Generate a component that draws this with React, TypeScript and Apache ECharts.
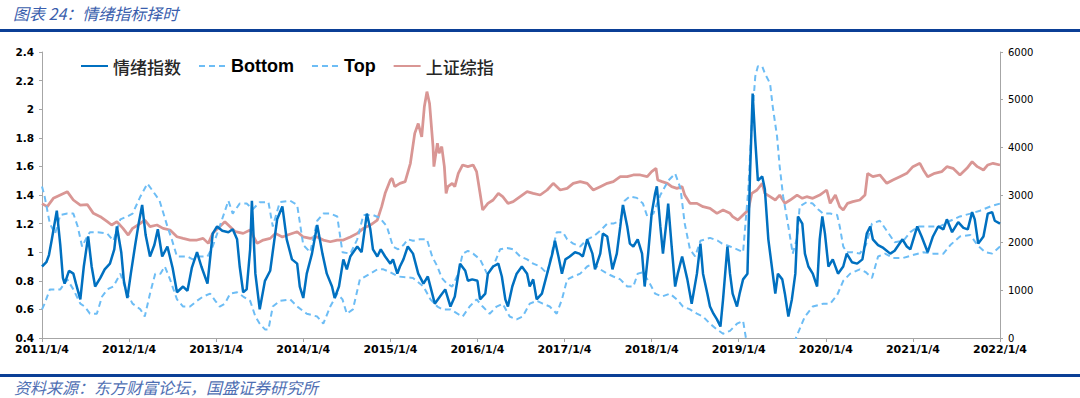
import React, { useEffect, useRef } from "react";
import * as echarts from "echarts";

// [decimal year, value]
const sentiment: [number, number][] = [
  [2011.00,0.90],[2011.05,0.93],[2011.08,0.98],[2011.11,1.08],[2011.15,1.22],[2011.17,1.29],[2011.21,1.05],[2011.24,0.82],[2011.26,0.78],[2011.31,0.87],[2011.36,0.85],[2011.39,0.78],[2011.44,0.67],[2011.48,0.90],[2011.53,1.11],[2011.57,0.90],[2011.61,0.76],[2011.67,0.82],[2011.72,0.88],[2011.78,0.92],[2011.83,1.02],[2011.86,1.18],[2011.91,1.00],[2011.94,0.80],[2011.98,0.68],
  [2012.02,0.85],[2012.07,1.05],[2012.11,1.20],[2012.15,1.33],[2012.19,1.12],[2012.24,0.97],[2012.29,1.05],[2012.33,1.16],[2012.38,0.97],[2012.44,1.04],[2012.50,0.89],[2012.55,0.72],[2012.62,0.76],[2012.67,0.73],[2012.72,0.89],[2012.78,1.00],[2012.83,0.90],[2012.90,0.78],[2012.96,1.13],
  [2013.01,1.18],[2013.07,1.15],[2013.14,1.14],[2013.19,1.16],[2013.24,1.09],[2013.27,0.90],[2013.31,0.72],[2013.35,0.74],[2013.39,1.02],[2013.41,1.36],[2013.45,0.85],[2013.50,0.60],[2013.56,0.80],[2013.62,0.87],[2013.70,1.23],[2013.76,1.32],[2013.81,1.09],[2013.87,0.95],[2013.93,0.92],[2013.96,0.76],
  [2014.00,0.68],[2014.04,0.85],[2014.10,0.99],[2014.16,1.19],[2014.22,0.99],[2014.27,0.85],[2014.33,0.76],[2014.36,0.68],[2014.41,0.76],[2014.46,0.95],[2014.50,0.88],[2014.54,0.97],[2014.62,1.04],[2014.67,1.00],[2014.73,1.27],[2014.77,1.16],[2014.80,1.02],[2014.85,0.97],[2014.89,1.02],[2014.94,0.97],
  [2015.00,0.92],[2015.03,0.95],[2015.08,0.85],[2015.11,0.90],[2015.15,0.95],[2015.20,1.04],[2015.26,0.99],[2015.32,0.85],[2015.38,0.78],[2015.43,0.83],[2015.51,0.64],[2015.57,0.69],[2015.63,0.74],[2015.69,0.62],[2015.74,0.69],[2015.80,0.92],[2015.86,0.87],[2015.89,0.80],[2015.94,0.81],
  [2016.00,0.80],[2016.03,0.67],[2016.09,0.71],[2016.12,0.85],[2016.18,0.90],[2016.24,0.92],[2016.28,0.83],[2016.32,0.67],[2016.35,0.62],[2016.40,0.76],[2016.45,0.85],[2016.51,0.90],[2016.57,0.85],[2016.60,0.76],[2016.64,0.81],[2016.68,0.67],[2016.74,0.71],[2016.80,0.85],[2016.86,0.99],[2016.89,1.08],[2016.93,0.97],[2016.97,0.85],
  [2017.01,0.95],[2017.06,0.97],[2017.12,1.00],[2017.17,0.99],[2017.21,0.97],[2017.26,1.09],[2017.32,0.99],[2017.35,0.88],[2017.41,0.99],[2017.44,1.13],[2017.49,1.11],[2017.55,0.88],[2017.60,0.99],[2017.64,1.18],[2017.67,1.33],[2017.72,1.18],[2017.75,1.06],[2017.79,1.04],[2017.84,1.09],[2017.89,0.99],[2017.92,0.76],[2017.96,0.99],
  [2018.00,1.27],[2018.04,1.41],[2018.06,1.46],[2018.10,1.18],[2018.13,0.99],[2018.18,1.27],[2018.19,1.34],[2018.23,1.04],[2018.27,0.76],[2018.30,0.85],[2018.35,0.97],[2018.41,0.81],[2018.46,0.64],[2018.52,0.85],[2018.56,1.06],[2018.59,0.85],[2018.64,0.71],[2018.67,0.62],[2018.71,0.57],[2018.75,0.53],[2018.79,0.48],[2018.82,0.67],[2018.87,1.04],[2018.90,0.85],[2018.93,0.71],[2018.98,0.62],
  [2019.01,0.71],[2019.05,0.81],[2019.10,0.85],[2019.13,1.55],[2019.16,2.11],[2019.19,1.78],[2019.22,1.50],[2019.27,1.53],[2019.30,1.44],[2019.34,1.09],[2019.38,0.90],[2019.42,0.71],[2019.45,0.85],[2019.50,0.81],[2019.53,0.71],[2019.57,0.55],[2019.61,0.67],[2019.65,0.85],[2019.68,1.25],[2019.73,1.20],[2019.76,0.99],[2019.80,0.90],[2019.85,0.85],[2019.90,0.76],[2019.93,1.09],[2019.96,1.25],[2019.99,1.13],
  [2020.03,0.90],[2020.08,0.95],[2020.14,0.85],[2020.20,0.90],[2020.24,0.99],[2020.30,0.93],[2020.36,0.92],[2020.42,0.95],[2020.47,1.13],[2020.51,1.18],[2020.54,1.09],[2020.60,1.05],[2020.66,1.03],[2020.74,0.99],[2020.79,1.01],[2020.88,1.09],[2020.93,1.04],[2020.97,1.02],
  [2021.05,1.18],[2021.10,1.11],[2021.17,1.00],[2021.23,1.11],[2021.29,1.18],[2021.35,1.16],[2021.39,1.23],[2021.45,1.14],[2021.52,1.21],[2021.58,1.17],[2021.63,1.16],[2021.68,1.28],[2021.71,1.23],[2021.75,1.06],[2021.81,1.11],[2021.86,1.27],[2021.91,1.28],[2021.94,1.22],[2022.00,1.20],
];

const topBand: [number, number][] = [
  [2011.00,1.46],[2011.03,1.39],[2011.09,1.20],[2011.15,1.13],[2011.21,1.26],[2011.29,1.27],[2011.36,1.27],[2011.41,1.18],[2011.46,1.04],[2011.52,1.11],[2011.55,1.14],[2011.64,1.14],[2011.75,1.13],[2011.82,1.08],[2011.90,1.23],[2011.98,1.25],
  [2012.04,1.27],[2012.13,1.39],[2012.21,1.48],[2012.27,1.43],[2012.35,1.36],[2012.44,1.18],[2012.49,1.09],[2012.55,0.97],[2012.61,0.97],[2012.67,0.97],[2012.73,0.95],[2012.81,0.97],[2012.90,0.97],[2012.96,1.04],
  [2013.04,1.18],[2013.14,1.36],[2013.19,1.27],[2013.27,1.34],[2013.35,1.34],[2013.42,1.30],[2013.50,1.35],[2013.60,1.35],[2013.65,1.18],[2013.73,1.35],[2013.85,1.36],[2013.93,1.33],
  [2014.00,1.05],[2014.08,1.00],[2014.16,1.22],[2014.23,1.27],[2014.31,1.27],[2014.39,1.25],[2014.45,1.00],[2014.54,0.99],[2014.62,1.09],[2014.69,1.26],[2014.80,1.26],[2014.88,1.24],[2014.96,1.18],
  [2015.03,1.04],[2015.09,1.02],[2015.15,1.05],[2015.20,1.09],[2015.26,1.08],[2015.34,1.09],[2015.42,1.09],[2015.48,0.97],[2015.54,0.90],[2015.59,0.82],[2015.65,0.78],[2015.71,0.76],[2015.78,0.85],[2015.83,0.99],[2015.89,1.01],[2015.95,0.99],
  [2016.03,0.95],[2016.11,0.85],[2016.18,0.90],[2016.26,1.02],[2016.34,1.03],[2016.41,1.02],[2016.49,0.97],[2016.57,0.95],[2016.64,0.92],[2016.72,0.90],[2016.80,0.85],[2016.87,1.04],[2016.91,1.14],[2016.98,1.14],
  [2017.03,1.09],[2017.10,1.06],[2017.18,1.04],[2017.26,1.09],[2017.33,1.11],[2017.41,1.15],[2017.49,1.20],[2017.56,1.20],[2017.64,1.22],[2017.69,1.36],[2017.75,1.39],[2017.83,1.38],[2017.90,1.34],[2017.95,1.25],
  [2018.02,1.27],[2018.10,1.40],[2018.19,1.50],[2018.27,1.55],[2018.33,1.45],[2018.38,1.20],[2018.44,1.02],[2018.50,0.97],[2018.56,1.08],[2018.67,1.10],[2018.76,1.08],[2018.81,1.06],[2018.90,1.04],[2018.98,1.02],
  [2019.05,1.00],[2019.11,1.44],[2019.15,1.90],[2019.19,2.23],[2019.22,2.30],[2019.27,2.30],[2019.30,2.25],[2019.36,2.18],[2019.39,2.02],[2019.44,1.81],[2019.47,1.60],[2019.51,1.39],[2019.57,1.18],[2019.62,0.99],[2019.67,1.10],[2019.70,1.32],[2019.78,1.35],[2019.85,1.34],[2019.91,1.30],[2019.97,1.27],
  [2020.05,1.27],[2020.13,1.26],[2020.16,1.18],[2020.20,1.04],[2020.24,1.00],[2020.31,1.00],[2020.39,0.99],[2020.46,1.05],[2020.53,1.20],[2020.62,1.22],[2020.70,1.15],[2020.79,1.07],[2020.89,1.08],[2020.97,1.14],
  [2021.06,1.18],[2021.20,1.18],[2021.31,1.18],[2021.43,1.22],[2021.54,1.25],[2021.66,1.27],[2021.77,1.29],[2021.89,1.32],[2022.00,1.34],
];

const bottomBand: [number, number][] = [
  [2011.00,0.60],[2011.03,0.64],[2011.09,0.74],[2011.15,0.74],[2011.21,0.74],[2011.29,0.81],[2011.36,0.74],[2011.44,0.64],[2011.49,0.62],[2011.55,0.57],[2011.63,0.57],[2011.69,0.69],[2011.75,0.74],[2011.82,0.76],[2011.90,0.85],[2011.98,0.71],
  [2012.04,0.64],[2012.13,0.60],[2012.18,0.55],[2012.24,0.71],[2012.30,0.85],[2012.36,0.85],[2012.41,0.90],[2012.47,0.81],[2012.55,0.67],[2012.62,0.62],[2012.70,0.62],[2012.78,0.66],[2012.85,0.69],[2012.93,0.71],[2012.99,0.66],
  [2013.04,0.62],[2013.10,0.64],[2013.16,0.71],[2013.24,0.72],[2013.31,0.69],[2013.39,0.66],[2013.45,0.55],[2013.50,0.50],[2013.56,0.46],[2013.60,0.46],[2013.65,0.62],[2013.73,0.66],[2013.85,0.67],[2013.93,0.62],
  [2014.04,0.57],[2014.16,0.55],[2014.23,0.50],[2014.31,0.62],[2014.39,0.71],[2014.45,0.67],[2014.50,0.57],[2014.57,0.60],[2014.65,0.81],[2014.77,0.85],[2014.85,0.88],[2014.92,0.88],
  [2015.00,0.86],[2015.09,0.83],[2015.26,0.82],[2015.38,0.76],[2015.46,0.67],[2015.54,0.62],[2015.60,0.60],[2015.69,0.60],[2015.77,0.57],[2015.83,0.55],[2015.91,0.62],[2015.99,0.67],
  [2016.06,0.62],[2016.14,0.57],[2016.22,0.62],[2016.29,0.64],[2016.37,0.55],[2016.45,0.53],[2016.52,0.55],[2016.60,0.64],[2016.68,0.66],[2016.75,0.64],[2016.83,0.62],[2016.91,0.57],[2016.97,0.67],
  [2017.03,0.81],[2017.10,0.83],[2017.18,0.85],[2017.26,0.90],[2017.33,0.92],[2017.41,0.88],[2017.49,0.85],[2017.56,0.83],[2017.64,0.81],[2017.72,0.76],[2017.79,0.76],[2017.84,0.85],[2017.90,0.86],[2017.98,0.78],
  [2018.04,0.71],[2018.12,0.69],[2018.21,0.71],[2018.29,0.67],[2018.36,0.62],[2018.44,0.60],[2018.52,0.57],[2018.59,0.55],[2018.67,0.50],[2018.75,0.46],[2018.82,0.43],[2018.90,0.45],[2018.98,0.50],
  [2019.05,0.52],[2019.11,0.30],[2019.15,0.10],[2019.25,0.00],[2019.36,0.05],[2019.47,0.15],[2019.59,0.30],[2019.67,0.42],[2019.76,0.55],[2019.85,0.62],[2019.97,0.64],
  [2020.05,0.64],[2020.13,0.70],[2020.20,0.80],[2020.28,0.85],[2020.39,0.88],[2020.46,0.86],[2020.53,0.82],[2020.60,0.97],[2020.68,0.99],[2020.77,0.96],[2020.89,0.96],
  [2021.00,0.98],[2021.12,1.00],[2021.23,0.99],[2021.35,0.99],[2021.43,1.05],[2021.54,1.11],[2021.66,1.12],[2021.74,1.05],[2021.83,1.00],[2021.91,0.99],[2022.00,1.04],
];

const sse: [number, number][] = [
  [2011.00,2820],[2011.06,2755],[2011.13,2930],[2011.21,3000],[2011.29,3070],[2011.36,2895],[2011.44,2790],[2011.52,2800],[2011.59,2615],[2011.67,2545],[2011.75,2440],[2011.80,2370],[2011.86,2440],[2011.93,2300],[2011.99,2160],
  [2012.04,2300],[2012.13,2405],[2012.18,2475],[2012.24,2335],[2012.32,2370],[2012.39,2300],[2012.47,2265],[2012.55,2125],[2012.62,2090],[2012.70,2055],[2012.78,2055],[2012.85,2090],[2012.91,1985],[2012.96,2195],
  [2013.02,2300],[2013.10,2440],[2013.16,2335],[2013.22,2230],[2013.31,2195],[2013.39,2265],[2013.47,1985],[2013.54,2055],[2013.62,2090],[2013.68,2195],[2013.76,2120],[2013.82,2160],[2013.93,2230],
  [2014.00,2120],[2014.08,2090],[2014.16,2120],[2014.23,2055],[2014.31,2020],[2014.39,2055],[2014.46,2055],[2014.54,2120],[2014.62,2195],[2014.69,2300],[2014.77,2370],[2014.85,2475],[2014.90,2755],[2014.94,3035],
  [2015.00,3315],[2015.02,3350],[2015.05,3175],[2015.11,3245],[2015.17,3280],[2015.23,3665],[2015.28,4293],[2015.32,4500],[2015.36,4220],[2015.39,4850],[2015.42,5168],[2015.45,4920],[2015.49,4015],[2015.50,3595],[2015.54,4085],[2015.56,3875],[2015.59,4015],[2015.62,3595],[2015.64,3035],[2015.66,3175],[2015.71,3245],[2015.74,3175],[2015.78,3455],[2015.83,3630],[2015.89,3595],[2015.95,3630],[2015.99,3490],
  [2016.03,3035],[2016.06,2685],[2016.12,2825],[2016.18,2895],[2016.24,3035],[2016.29,2965],[2016.35,2825],[2016.41,2860],[2016.49,2965],[2016.57,3070],[2016.64,3035],[2016.72,3000],[2016.80,3105],[2016.87,3245],[2016.95,3105],
  [2017.03,3140],[2017.10,3245],[2017.18,3280],[2017.26,3245],[2017.33,3105],[2017.41,3175],[2017.49,3245],[2017.56,3280],[2017.64,3385],[2017.72,3385],[2017.79,3420],[2017.87,3420],[2017.95,3385],
  [2018.00,3490],[2018.05,3560],[2018.07,3315],[2018.12,3280],[2018.18,3245],[2018.23,3175],[2018.29,3140],[2018.35,3175],[2018.38,2999],[2018.44,2825],[2018.52,2825],[2018.59,2755],[2018.67,2720],[2018.75,2615],[2018.82,2685],[2018.90,2615],[2018.93,2545],[2018.99,2475],
  [2019.05,2580],[2019.11,2685],[2019.15,3035],[2019.21,3105],[2019.27,3245],[2019.30,3035],[2019.36,2965],[2019.42,2895],[2019.47,2999],[2019.53,2825],[2019.59,2895],[2019.67,2999],[2019.73,2930],[2019.78,2965],[2019.85,2930],[2019.93,2999],
  [2020.01,3105],[2020.05,2825],[2020.11,2999],[2020.16,2755],[2020.20,2685],[2020.25,2825],[2020.31,2860],[2020.39,2895],[2020.45,2999],[2020.48,3455],[2020.54,3385],[2020.62,3420],[2020.70,3245],[2020.77,3315],[2020.85,3385],[2020.93,3455],
  [2021.00,3595],[2021.08,3665],[2021.12,3525],[2021.17,3385],[2021.25,3455],[2021.33,3490],[2021.39,3595],[2021.46,3560],[2021.54,3420],[2021.62,3560],[2021.68,3700],[2021.74,3595],[2021.81,3525],[2021.86,3630],[2021.92,3665],[2022.00,3630],
];

const seriesNames = ["情绪指数", "Bottom", "Top", "上证综指"];
const leftTicks = { min: 0.4, max: 2.4, interval: 0.2 };
const rightTicks = { min: 0, max: 6000, interval: 1000 };
const xRange = { min: 2011, max: 2022, interval: 1 };
const titleText = "图表 24：情绪指标择时";
const sourceText = "资料来源：东方财富论坛，国盛证券研究所";

export default function App() {
  const ref = useRef<HTMLDivElement>(null);
  useEffect(() => {
    if (!ref.current) return;
    const chart = echarts.init(ref.current, null, { renderer: "svg" });
    const cjk = { fontFamily: "Noto Sans CJK SC", fontSize: 17, color: "#262626", fontWeight: 500 };
    const latin = { fontFamily: "Liberation Sans", fontSize: 18, color: "#000", fontWeight: "bold" };
    const dashBlue = "#6DBDF5";
    chart.setOption({
      animation: false,
      backgroundColor: "#fff",
      grid: { left: 42, right: 80, top: 52, bottom: 60, containLabel: false },
      legend: {
        left: 80,
        top: 57,
        padding: 0,
        itemGap: 17,
        itemWidth: 27,
        itemHeight: 14,
        itemStyle: { opacity: 0 },
        data: [
          { name: seriesNames[0], textStyle: cjk },
          { name: seriesNames[1], textStyle: latin },
          { name: seriesNames[2], textStyle: latin },
          { name: seriesNames[3], textStyle: cjk },
        ],
      },
      graphic: [
        { type: "text", left: 13, top: 5, style: { text: titleText, fill: "#3A5EAD", font: "italic 16px 'Noto Sans CJK SC'" } },
        { type: "rect", left: 0, top: 29, shape: { width: 1080, height: 3 }, style: { fill: "#0B3F96" } },
        { type: "rect", left: 0, top: 374, shape: { width: 1080, height: 3 }, style: { fill: "#0B3F96" } },
        { type: "text", left: 14, top: 379, style: { text: sourceText, fill: "#4F6FB3", font: "italic 16px 'Noto Sans CJK SC'" } },
      ],
      xAxis: {
        type: "value",
        min: xRange.min,
        max: xRange.max,
        interval: xRange.interval,
        splitLine: { show: false },
        axisLine: { lineStyle: { color: "#A6A6A6" } },
        axisTick: { show: true, length: 4, lineStyle: { color: "#A6A6A6" } },
        axisLabel: {
          formatter: (v: number) => `${v}/1/4`,
          fontFamily: "DejaVu Sans",
          fontWeight: "bold",
          fontSize: 11,
          color: "#000",
          margin: 6,
        },
      },
      yAxis: [
        {
          type: "value",
          ...leftTicks,
          splitLine: { show: false },
          axisLine: { show: true, lineStyle: { color: "#A6A6A6" } },
          axisTick: { show: true, length: 3, lineStyle: { color: "#A6A6A6" } },
          axisLabel: {
            formatter: (v: number) => String(Math.round(v * 10) / 10),
            fontFamily: "DejaVu Sans",
            fontWeight: "bold",
            fontSize: 10.5,
            color: "#000",
            margin: 8,
          },
        },
        {
          type: "value",
          position: "right",
          ...rightTicks,
          splitLine: { show: false },
          axisLine: { show: true, lineStyle: { color: "#A6A6A6" } },
          axisTick: { show: true, length: 3, lineStyle: { color: "#A6A6A6" } },
          axisLabel: {
            formatter: (v: number) => String(Math.round(v)),
            fontFamily: "DejaVu Sans",
            fontSize: 10,
            color: "#000",
            margin: 8,
          },
        },
      ],
      series: [
        {
          name: seriesNames[3], type: "line", yAxisIndex: 1, data: sse, symbol: "none",
          lineStyle: { color: "#D99694", width: 2.75 }, itemStyle: { color: "#D99694" },
        },
        {
          name: seriesNames[1], type: "line", data: bottomBand, symbol: "none",
          lineStyle: { color: dashBlue, width: 2, type: [6, 4] }, itemStyle: { color: dashBlue },
        },
        {
          name: seriesNames[2], type: "line", data: topBand, symbol: "none",
          lineStyle: { color: dashBlue, width: 2, type: [6, 4] }, itemStyle: { color: dashBlue },
        },
        {
          name: seriesNames[0], type: "line", data: sentiment, symbol: "none",
          lineStyle: { color: "#0070C0", width: 2.5 }, itemStyle: { color: "#0070C0" },
        },
      ],
    });
    return () => chart.dispose();
  }, []);
  return <div ref={ref} style={{ position: "absolute", left: 0, top: 0, width: 1080, height: 398 }} />;
}
